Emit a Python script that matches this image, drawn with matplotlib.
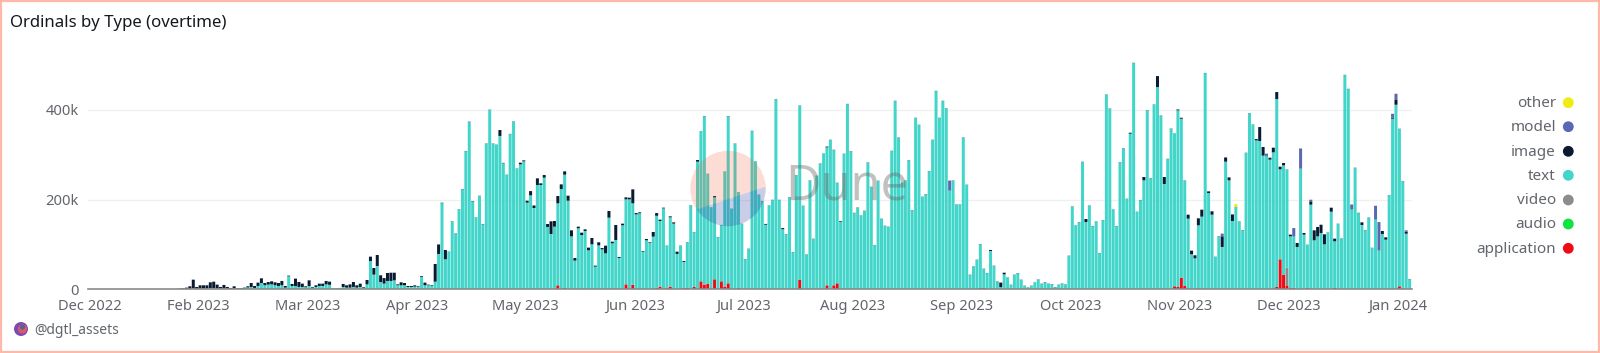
import numpy as np
import matplotlib
matplotlib.use('Agg')
import matplotlib.pyplot as plt
from matplotlib.patches import Circle, Polygon, Rectangle
from matplotlib.transforms import IdentityTransform

# ---- data (thousands of inscriptions per bar) ----
tick_labels = ['Dec 2022','Feb 2023','Mar 2023','Apr 2023','May 2023','Jun 2023','Jul 2023',
               'Aug 2023','Sep 2023','Oct 2023','Nov 2023','Dec 2023','Jan 2024']
# height at which the teal part ends (includes application/video underneath)
text_top = [0]*25 + [
 .2,.3,.5,.7,1,                                   # 25-29
 2,1,1.5,1.5,1.5,2.5,2.5,2,1.5,2,
 1.5,1,1.5,.8,.8,1.5,4,5,3,7.4,
 14,9,10.4,11,9,7.4,9,3.7,29,7.4,
 7.4,5.2,5.2,4.5,7.4,3.7,5.2,7.4,7.4,11,
 10,1.5,1.5,2,5.2,3.7,3.7,5.2,3.7,5.2,
 3,11,63,32.7,52,16.3,12.6,18.6,18.6,20,
 9,9,9,5.2,5.2,6,5.2,28,9,9,
 7.4,17,78.8,192,66.9,83.5,151,124,178,223,
 308,373,196,160,208,145,325,400,324,322,
 342,281,255,346,374,269,278.6,285.3,193.2,209.5,
 181.3,232.6,232.6,249,139,123.3,139.7,191.7,223.6,255.6,
 197.6,118,63.9,136,121,130,87,100.3,50.5,98,
 89,80.2,159.7,102.5,110,69.8,142.7,200.6,200.6,191.7,
 167,169.4,84,109.2,103.3,117.4,164,152.3,180.5,97,
 160.5,146.4,78.8,97,61,104.5,187,127,284.6,352,
 386,257,182,205,116,143,262,386,179,324.5,
 216,145.6,66.9,89.9,352.9,284.6,210.3,196.2,144,186.5,
 199,423.5,199,134,122.6,205,82.5,254,409.4,185.8,
 77.3,242.2,112.2,252.6,280,302.4,316.5,332.9,310.6,237,
 150.8,301.7,413,307.6,170,182,164.2,174.6,282.3,228,
 98,241.5,156.8,141.2,139,308.3,419.8,338,237,242.2,
 287.5,176,381.9,366.3,205.8,211.8,263,332.9,442,381.9,
 419.8,403.4,220,242.2,188.7,188.7,338,232.6,32,50.5,
 65.4,100.3,45.3,35.7,85.5,52,16,4.5,33.4,26,
 9.7,32,35.7,20.8,7.4,3.7,7.4,14.9,21.5,11.9,
 15.6,11.9,11.1,4.5,9.7,12.6,10.4,74.3,184.3,142,
 149.3,283.8,150,186.5,140.4,150.8,80.2,153.8,433.9,402.7,
 177.6,140.4,283,314.3,201.4,347,504.5,172.4,198.4,243,
 399,247.4,411.6,451,387,234.8,290.5,358,347,399,
 380.4,242.2,157.5,78,69,142.7,162,482,214.7,166.4,
 72,118,94.4,284.6,243,152.3,183.5,150.8,131.5,303.9,
 392.3,367,332,330.6,298,297,289,305.4,424.3,267.5,
 276.4,266.7,118,118,94.4,269,121.9,98.8,188.7,109.2,
 118,125.6,100.3,126.3,173,107,145.6,113,477.7,446.5,
 178.3,270.5,170,143.4,131.5,159.7,92,155.3,87,123.3,
 110.7,209.5,380.4,411.6,357.4,240.7,124,22.3]
image = [0]*25 + [
 .5,1.2,1.7,3,5.7,
 19.5,4.2,7.4,7.4,7.4,13.1,14.5,8.4,3.7,7.7,
 3.7,2,5.2,1.4,1.4,2.2,2.7,9,4.4,7.5,
 10.5,5,5.9,6.8,6.6,6.6,9.6,3.7,1.5,4.5,
 16.4,11.1,7.4,2.2,12.6,1.5,3.7,5.2,5.2,7.6,
 7,.7,.7,1,6.7,5.2,7.3,11.1,5.2,7.4,
 1.5,9.8,9.8,14.8,24.5,14.9,12.4,17.8,18.4,17,
 2,6.6,5,2.2,2.2,2.9,1.5,1.7,5.9,1.4,
 1.5,39.5,21.2,1,20.8,.5,.6,.6,.5,.6,
 .5,.7,.9,.5,.5,.6,.4,.5,.7,.5,
 13.2,.9,.5,.5,.5,.5,3.7,2.2,4.4,9.5,
 5.7,14.8,3.7,5.8,6.6,28.3,12.6,16.3,10.4,7.4,
 11.2,13.5,5.9,3.7,5.3,3.7,5.9,14.1,2.3,6.8,
 3,17.1,14.9,3.7,33.4,2.2,3.7,4.4,3.7,31.2,
 3,2.2,1.4,3,1.5,10.4,6,3,1.5,.5,
 2.2,2.9,5.2,.5,2,.5,.5,.5,3.7,.5,
 .5,.5,.5,3,.5,.5,.5,.5,.5,.5,
 .5,.5,.5,.5,.5,.5,.5,.5,1.8,.5,
 .5,.5,.5,2.5,.5,.5,.5,.5,.5,.5,
 .5,.5,.5,.5,.5,.5,1.8,.5,.5,.5,
 1.5,.5,.5,.5,.5,.5,.5,.5,.5,.5,
 .5,.5,.5,.5,.5,.5,.5,.5,.5,.5,
 .5,.5,.5,.5,.5,.5,.5,.5,.5,.5,
 .5,.5,.5,.5,.5,.5,.5,.5,.5,.5,
 .5,.5,.5,.5,2.2,.5,1,10.5,3.6,.5,
 .5,.5,.5,.5,.5,.5,.5,.5,.5,.5,
 .5,.5,.5,.5,.5,.5,.5,.5,.5,.5,
 .5,.5,6.8,.5,.5,.5,.5,.5,.5,.5,
 .5,.5,.5,.5,.5,2.2,.5,.5,.5,7.4,
 .5,.5,.5,24.5,.5,15.6,.5,.5,.5,2,
 2.2,.5,8.9,8.2,6.8,15.6,15.6,.5,3.7,7.5,
 .5,.5,23.8,9,6.6,14.7,.5,.5,.5,.5,
 .5,.5,3,31.2,19.3,.5,4.5,10.4,15.6,5.9,
 5.2,.5,3.9,.5,8.9,.5,3.7,.5,7.4,22.3,
 21,18.4,22.3,.5,9,6,.5,.5,.5,.5,
 .5,.5,.5,5.9,.5,.5,.5,.5,.5,6.7,
 5.2,.5,2,11.9,.5,.5,4,.5]
application_by_bar = {137:8.9,139:3,153:2,154:2,157:11,159:10.4,166:3.7,167:6,169:3.7,170:6,
    174:3,175:3,177:5.2,179:17.8,180:10.4,181:11.9,183:22.3,185:17.8,186:6,187:13.4,190:3,
    194:2.2,208:20.8,216:8.9,218:8.9,219:13.4,261:3,262:3,313:2,318:6.7,319:5.2,320:26,
    321:7.4,322:2.2,325:2.2,326:2.2,348:5.2,349:66.9,350:32.7,351:7.4,352:3,353:3,357:3,
    358:1.5,359:1.5,365:3,383:2,384:6.7}
video_by_bar = {351:40.9,335:1.5,375:1.5,381:1.5,362:1.5,360:1.5}
model_by_bar = {252:22,332:6,333:1.5,345:5,353:18,355:44.6,358:3.7,370:10.4,377:30.5,
    378:62.4,382:9,383:12.6,386:3.5}
other_by_bar = {336:6}

legend_names = ['other','model','image','text','video','audio','application']
legend_colors = ['#F0EC12','#5B67B1','#0A1A30','#42D5C9','#8C8C8C','#0BE33F','#F00A14']

assert len(text_top) == len(image) == 388, (len(text_top), len(image))
n = len(text_top)

def sparse(d):
    a = np.zeros(n)
    for k, v in d.items():
        a[k] = v
    return a

application = sparse(application_by_bar)
video = sparse(video_by_bar)
model = sparse(model_by_bar)
other = sparse(other_by_bar)
img = np.array(image, float)
text = np.array(text_top, float) - application - video
text = np.clip(text, 0, None)

W, H = 1600, 353
fig = plt.figure(figsize=(W/100, H/100), dpi=100, facecolor='white')
plt.rcParams['font.family'] = ['Noto Sans', 'DejaVu Sans']
ax = fig.add_axes([88/W, 1-289.3/H, (1412-88)/W, (289.3-42)/H])
ax.set_facecolor('none')
x = np.arange(n)
c = dict(zip(legend_names, legend_colors))
bottom = np.zeros(n)
for name, vals in [('application', application), ('video', video), ('text', text),
                   ('image', img), ('model', model), ('other', other)]:
    ax.bar(x, vals, bottom=bottom, width=0.88, color=c[name], linewidth=0, zorder=3, snap=False)
    bottom = bottom + vals

ax.set_xlim(-0.9, n-0.5+0.2)
ax.set_ylim(0, 551.5)
ax.set_yticks([0, 200, 400])
ax.set_yticklabels(['0', '200k', '400k'])
ax.set_xticks(np.arange(len(tick_labels))*32 - 0.4)
ax.set_xticklabels(tick_labels)
ax.tick_params(axis='both', length=0, labelsize=10.6, labelcolor='#62666c')
ax.tick_params(axis='y', pad=6.5)
ax.tick_params(axis='x', pad=7.2)
ax.grid(axis='y', color='#f0f0f0', linewidth=1, zorder=0)
ax.grid(axis='x', visible=False)
for s in ['top', 'right', 'left']:
    ax.spines[s].set_visible(False)
ax.spines['bottom'].set_color('#8a8a8a')
ax.spines['bottom'].set_linewidth(1.2)
ax.spines['bottom'].set_zorder(4)

def ftext(px, py, s, **kw):
    return fig.text(px/W, 1-py/H, s, **kw)

ftext(10, 23, 'Ordinals by Type (overtime)', fontsize=12.1, fontweight='bold',
      color='#14181f', va='center', ha='left')
ftext(34, 330, '@dgtl_assets', fontsize=10, color='#62666c', va='center', ha='left')

# legend
legend_y = [102.7, 126.7, 151.3, 175.3, 200, 224, 248.3]
T = IdentityTransform()
for name, col, py in zip(legend_names, legend_colors, legend_y):
    ftext(1556, py+1.0, name, fontsize=11, color='#62666c', va='center', ha='right')
    fig.add_artist(Circle((1568.3, H-py), 5.4, transform=T, facecolor=col, edgecolor='none'))

# Dune watermark: disc split along a slanted line
cx, cy, r = 728, H-188.5, 37.7
clip_top = Circle((cx, cy), r, transform=T)
clip_low = Circle((cx, cy), r, transform=T)
upper = Polygon([(680, H-215), (780, H-182), (780, H-140), (680, H-140)], closed=True,
                transform=T, facecolor='#F2643C', alpha=0.22, edgecolor='none', zorder=5)
lower = Polygon([(680, H-215), (780, H-182), (780, H-240), (680, H-240)], closed=True,
                transform=T, facecolor='#3040A0', alpha=0.26, edgecolor='none', zorder=5)
fig.add_artist(upper)
fig.add_artist(lower)
upper.set_clip_path(clip_top)
lower.set_clip_path(clip_low)
ftext(785, 186.5, 'Dune', fontsize=35, fontweight='bold', color='#666666', alpha=0.4,
      va='center', ha='left', zorder=6)

# avatar
fig.add_artist(Circle((21, H-329), 7, transform=T, facecolor='#7A4BB0', edgecolor='none'))
fig.add_artist(Circle((22.5, H-329), 4.6, transform=T, facecolor='#D8586F', edgecolor='none'))
fig.add_artist(Circle((22.5, H-327), 2.6, transform=T, facecolor='#5A5F8C', edgecolor='none'))

# outer frame
fig.add_artist(Rectangle((0.75, 0.75), W-1.5, H-1.5, transform=T, facecolor='none',
                         edgecolor='#FFB9A8', linewidth=1.6, zorder=10))
fig.savefig('out.png', dpi=100)
